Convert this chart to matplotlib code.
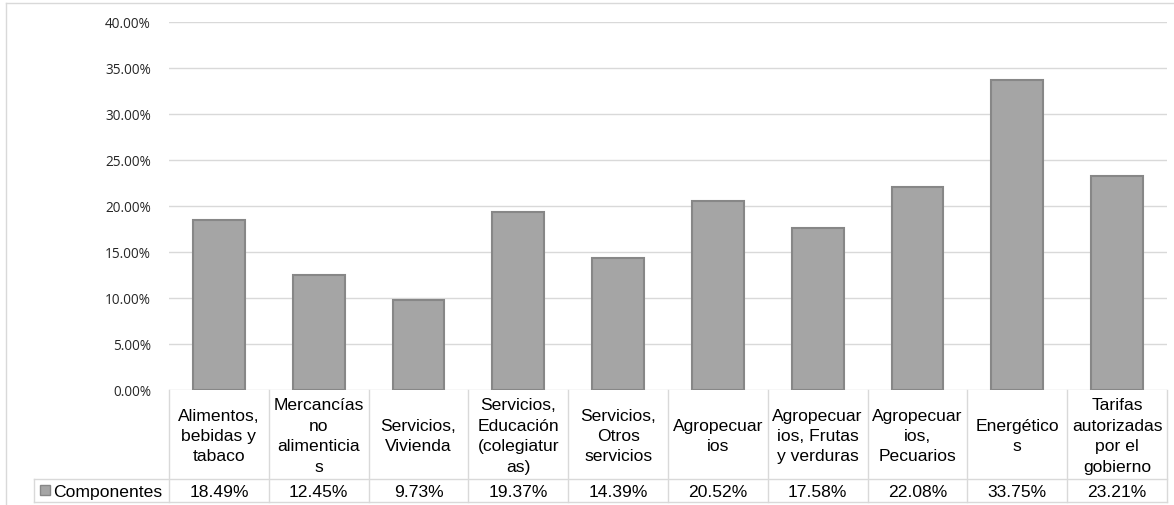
import matplotlib
matplotlib.use("Agg")
import matplotlib.pyplot as plt
import matplotlib.transforms as mtransforms
from matplotlib.lines import Line2D
from matplotlib.patches import Rectangle

categorias = [
    "Alimentos,\nbebidas y\ntabaco",
    "Mercancías\nno\nalimenticia\ns",
    "Servicios,\nVivienda",
    "Servicios,\nEducación\n(colegiatur\nas)",
    "Servicios,\nOtros\nservicios",
    "Agropecuar\nios",
    "Agropecuar\nios, Frutas\ny verduras",
    "Agropecuar\nios,\nPecuarios",
    "Energético\ns",
    "Tarifas\nautorizadas\npor el\ngobierno",
]
componentes = [0.1849, 0.1245, 0.0973, 0.1937, 0.1439, 0.2052, 0.1758, 0.2208, 0.3375, 0.2321]
serie = "Componentes"
yticks = [0.0, 0.05, 0.10, 0.15, 0.20, 0.25, 0.30, 0.35, 0.40]

W, H = 1174, 506
fig = plt.figure(figsize=(W / 100, H / 100), dpi=100)

def fx(px):
    return px / W

def fy(py):
    return 1 - py / H

grid_c = "#D9D9D9"
bar_c = "#A5A5A5"
edge_c = "#878787"
txt_c = "#000000"
fs = 12.6

# pixel layout
x0, x1 = 169, 1167
y_top, y_zero = 23, 391
y_row, y_bot = 480, 503
x_leg = 34

ax = fig.add_axes([fx(x0), fy(y_zero), fx(x1) - fx(x0), fy(y_top) - fy(y_zero)])
n = len(categorias)
xs = list(range(n))
ax.bar(xs, componentes, width=0.52, color=bar_c, edgecolor=edge_c, linewidth=1.5, zorder=3)
ax.set_xlim(-0.5, n - 0.5)
ax.set_ylim(0, 0.40)
ax.set_yticks(yticks)
ax.set_yticklabels(["%.2f%%" % (v * 100) for v in yticks], fontsize=9.8,
                   family="Open Sans", color="#262626")
ax.tick_params(axis="y", length=0, pad=13)
ax.set_xticks([])
for s in ax.spines.values():
    s.set_visible(False)
ax.yaxis.grid(True, color=grid_c, linewidth=1)
ax.set_axisbelow(True)

# data table below
tr = mtransforms.blended_transform_factory(ax.transData, fig.transFigure)
bounds = [i - 0.5 for i in range(n + 1)]
for b in bounds:
    fig.add_artist(Line2D([b, b], [fy(y_zero), fy(y_bot)], transform=tr, color=grid_c, lw=1))
fig.add_artist(Line2D([fx(x_leg), fx(x1)], [fy(y_row), fy(y_row)], color=grid_c, lw=1))
fig.add_artist(Line2D([fx(x_leg), fx(x1)], [fy(y_bot), fy(y_bot)], color=grid_c, lw=1))
fig.add_artist(Line2D([fx(x_leg), fx(x_leg)], [fy(y_row), fy(y_bot)], color=grid_c, lw=1))

for i, (c, v) in enumerate(zip(categorias, componentes)):
    fig.text(i, fy((y_zero + y_row) / 2 + 1), c, transform=tr, ha="center", va="center",
             fontsize=fs, family="Liberation Sans", color=txt_c, linespacing=1.45)
    fig.text(i, fy((y_row + y_bot) / 2 + 1), "%.2f%%" % (v * 100), transform=tr, ha="center",
             va="center", fontsize=fs, family="Liberation Sans", color=txt_c)

fig.add_artist(Rectangle((fx(40), fy(496)), fx(10), fy(486) - fy(496),
                         facecolor=bar_c, edgecolor=edge_c, lw=1))
fig.text(fx(53), fy((y_row + y_bot) / 2 + 1), serie, ha="left", va="center",
         fontsize=fs, family="Liberation Sans", color=txt_c)

# chart border
fig.add_artist(Line2D([fx(6), fx(6)], [fy(4), 0], color=grid_c, lw=1))
fig.add_artist(Line2D([fx(6), 1], [fy(4), fy(4)], color=grid_c, lw=1))

fig.savefig("out.png", dpi=100)
